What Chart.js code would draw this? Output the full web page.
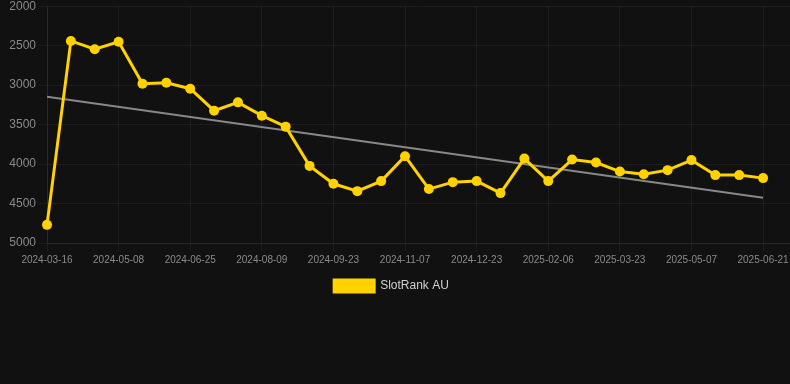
<!DOCTYPE html>
<html>
<head>
  <title>SlotRank AU</title>
  <script src="https://cdn.jsdelivr.net/npm/chart.js"></script>
  <style>
    body {
      font-family: Arial, sans-serif;
      background-color: #111111;
      margin: 0;
      padding: 0;
      overflow: hidden;
    }

    .wrap {
      position: absolute;
      left: -14px;
      top: -4px;
      width: 811px;
      height: 306px;
    }
  </style>
</head>
<body>
  <div class="wrap">
    <canvas id="rankChart"></canvas>
  </div>
  <script>
    // dates on the x axis (every 3rd one is shown)
    const dates = [
      '2024-03-16', '2024-04-02', '2024-04-20', '2024-05-08', '2024-05-24', '2024-06-09',
      '2024-06-25', '2024-07-10', '2024-07-25', '2024-08-09', '2024-08-24', '2024-09-08',
      '2024-09-23', '2024-10-08', '2024-10-23', '2024-11-07', '2024-11-22', '2024-12-08',
      '2024-12-23', '2025-01-07', '2025-01-22', '2025-02-06', '2025-02-21', '2025-03-08',
      '2025-03-23', '2025-04-07', '2025-04-22', '2025-05-07', '2025-05-22', '2025-06-06',
      '2025-06-21'
    ];

    // rank values (lower is better, axis is reversed)
    const ranks = [
      4770, 2440, 2545, 2450, 2982, 2970, 3045, 3324, 3218, 3387, 3526,
      4023, 4250, 4343, 4216, 3900, 4317, 4229, 4216, 4368, 3930, 4216,
      3943, 3981, 4095, 4128, 4077, 3950, 4140, 4140, 4178
    ];

    // trend line, only start and end
    const trendStart = 3147;
    const trendEnd = 4427;

    const yTicks = [2000, 2500, 3000, 3500, 4000, 4500, 5000];

    const rankPoints = ranks.map((v, i) => ({ x: i, y: v }));
    const trendPoints = [
      { x: 0, y: trendStart },
      { x: dates.length - 1, y: trendEnd }
    ];

    const ctx = document.getElementById('rankChart').getContext('2d');
    new Chart(ctx, {
      type: 'line',
      data: {
        datasets: [{
          label: 'SlotRank AU',
          data: rankPoints,
          borderColor: '#ffd200',
          backgroundColor: '#ffd200',
          borderWidth: 3,
          pointRadius: 5,
          pointHoverRadius: 6,
          pointBackgroundColor: '#ffd200',
          pointBorderWidth: 0,
          tension: 0,
          clip: false,
          order: 1
        }, {
          label: 'trend',
          data: trendPoints,
          borderColor: 'rgba(150, 150, 150, 0.9)',
          borderWidth: 2,
          pointRadius: 0,
          fill: false,
          order: 2
        }]
      },
      options: {
        responsive: true,
        maintainAspectRatio: false,
        animation: false,
        plugins: {
          legend: {
            position: 'bottom',
            labels: {
              color: '#d0d0d0',
              boxWidth: 40,
              boxHeight: 12,
              padding: 11,
              font: { size: 12 },
              filter: item => item.text !== 'trend'
            }
          },
          tooltip: { enabled: false }
        },
        scales: {
          x: {
            type: 'linear',
            min: 0,
            max: 31.17,
            grid: {
              color: 'rgba(255, 255, 255, 0.05)'
            },
            border: { color: 'rgba(255, 255, 255, 0.05)' },
            ticks: {
              stepSize: 3,
              includeBounds: false,
              maxRotation: 0,
              autoSkip: false,
              color: '#8a8a8a',
              font: { size: 10 },
              callback: value => dates[value] || ''
            }
          },
          y: {
            reverse: true,
            min: yTicks[0],
            max: yTicks[yTicks.length - 1],
            afterBuildTicks: axis => {
              axis.ticks = yTicks.map(v => ({ value: v }));
            },
            afterFit: axis => {
              axis.width = 61;
            },
            grid: {
              color: 'rgba(255, 255, 255, 0.05)'
            },
            border: { color: 'rgba(255, 255, 255, 0.05)' },
            ticks: {
              color: '#8a8a8a',
              font: { size: 12 },
              callback: value => String(value)
            }
          }
        }
      }
    });
  </script>
</body>
</html>
